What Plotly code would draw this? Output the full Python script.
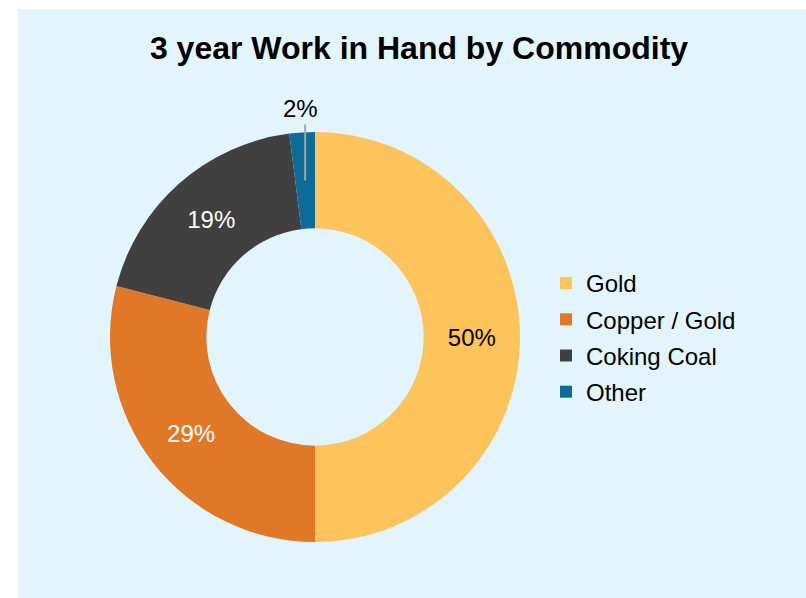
import math
import plotly.graph_objects as go

# ---- data ----
categories = ["Gold", "Copper / Gold", "Coking Coal", "Other"]
shares = [50, 29, 19, 2]
colors = ["#FFC35B", "#E07828", "#404040", "#0D6B98"]
text_colors = ["#000000", "#FFFFFF", "#FFFFFF", "#000000"]
text_positions = ["inside", "inside", "inside", "none"]
title_text = "3 year Work in Hand by Commodity"

W, H = 806, 598
BG = "#E3F5FC"
FONT = "Liberation Sans, Arial, sans-serif"

# pie geometry (px)
cx, cy, R = 315, 337, 205
hole = 0.53

fig = go.Figure()
fig.add_trace(go.Pie(
    labels=categories, values=shares,
    marker=dict(colors=colors, line=dict(width=0)),
    hole=hole, sort=False, direction="clockwise", rotation=0,
    textinfo="percent", texttemplate="%{percent:.0%}",
    textposition=text_positions,
    insidetextorientation="horizontal",
    textfont=dict(family=FONT, size=24, color=text_colors),
    insidetextfont=dict(family=FONT, size=24, color=text_colors),
    domain=dict(x=[(cx - R) / W, (cx + R) / W], y=[1 - (cy + R) / H, 1 - (cy - R) / H]),
    showlegend=False, hoverinfo="label+percent",
))

# legend entries (one per category, so item spacing can be controlled)
for i, (c, col) in enumerate(zip(categories, colors)):
    fig.add_trace(go.Scatter(
        x=[None], y=[None], mode="markers", name=c, legendgroup=f"g{i}",
        marker=dict(symbol="square", size=12, color=col, line=dict(width=0)),
        hoverinfo="skip",
    ))

# label + leader line for the small "Other" slice, computed from the data
total = sum(shares)
start = sum(shares[:3]) / total
mid_frac = start + shares[3] / total / 2
ang = 2 * math.pi * mid_frac  # clockwise from 12 o'clock
def to_paper(r):
    px = cx + r * math.sin(ang)
    py = cy - r * math.cos(ang)
    return px / W, 1 - py / H
r_in, r_out, r_lab = (hole + 1) / 2 * R, R + 8, R + 24
lx0, ly0 = to_paper(r_in)
_, ly1 = to_paper(r_out)
tx, ty = to_paper(r_lab)
other_pct = f"{round(100 * shares[3] / total)}%"

fig.update_layout(
    width=W, height=H,
    margin=dict(l=0, r=0, t=0, b=0),
    paper_bgcolor="white", plot_bgcolor="rgba(0,0,0,0)",
    xaxis=dict(visible=False), yaxis=dict(visible=False),
    font=dict(family=FONT, color="#000000"),
    title=dict(text=f"<b>{title_text}</b>", x=419 / W, xanchor="center",
               y=1 - 48 / H, yanchor="middle",
               font=dict(family=FONT, size=32, color="#000000")),
    legend=dict(x=546 / W, xanchor="left", y=1 - 261 / H, yanchor="top",
                font=dict(family=FONT, size=24, color="#000000"),
                bgcolor="rgba(0,0,0,0)", tracegroupgap=2, itemsizing="trace"),
    shapes=[
        dict(type="rect", xref="paper", yref="paper", x0=18 / W, x1=1, y0=0, y1=1 - 9 / H,
             fillcolor=BG, line=dict(width=0), layer="below"),
        dict(type="line", xref="paper", yref="paper", x0=lx0, y0=ly0, x1=lx0, y1=ly1,
             line=dict(color="#A6A6A6", width=2), layer="above"),
    ],
    annotations=[
        dict(text=other_pct, xref="paper", yref="paper", x=tx, y=ty,
             xanchor="center", yanchor="middle", showarrow=False,
             font=dict(family=FONT, size=24, color="#000000")),
    ],
)

fig.write_html("out.html")
